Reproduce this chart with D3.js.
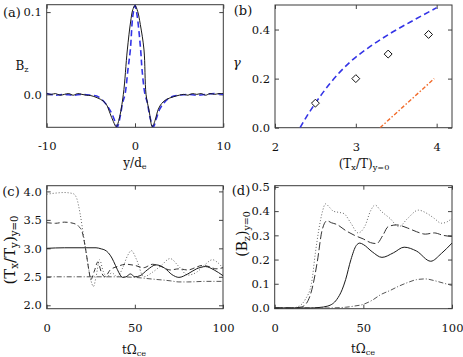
<!DOCTYPE html>
<html>
<head>
<meta charset="utf-8">
<script src="https://cdn.jsdelivr.net/npm/d3@7"></script>
<style>
  body { margin: 0; background: #fff; }
  svg { display: block; }
  text { font-family: "DejaVu Serif", serif; fill: #111; }
</style>
</head>
<body>
<div id="chart"></div>
<script>
// ---- panel (a): B_z profile vs y/d_e
const aSimX = [-10,-9.5,-9,-8.5,-8,-7.5,-7,-6.5,-6,-5.5,-5,-4.3,-3.6,-3.2,-2.83,-2.45,-2.12,-1.8,-1.32,-0.87,-0.5,-0.25,0,0.3,0.6,1.02,1.25,1.6,1.96,2.26,2.64,3.02,3.58,4.34,5,5.5,6,6.5,7,7.5,8,8.5,9,9.5,10];
const aSimY = [0.001,0.0,0.001,-0.001,0.0,0.001,-0.001,0.001,0.0,-0.001,-0.0015,-0.004,-0.008,-0.013,-0.023,-0.033,-0.0395,-0.03,0.0,0.054,0.088,0.103,0.108,0.101,0.085,0.054,0.0,-0.02,-0.0395,-0.032,-0.018,-0.011,-0.006,-0.003,-0.001,0.0,-0.001,0.001,0.0,0.001,-0.001,0.001,0.0,0.001,0.001];
const aFitX = [-10,-9,-8,-7,-6,-5,-4.34,-3.77,-3.2,-2.64,-2.3,-2.0,-1.7,-1.4,-1.13,-0.8,-0.53,-0.25,0,0.25,0.64,0.8,1.13,1.4,1.7,2.08,2.4,2.8,3.3,3.8,4.4,5,6,7,8,9,10];
const aFitY = [0.001,-0.001,0.0,-0.001,0.0,-0.001,-0.002,-0.006,-0.013,-0.023,-0.032,-0.0395,-0.028,-0.01,0.0,0.03,0.054,0.095,0.108,0.095,0.054,0.03,0.0,-0.01,-0.028,-0.0395,-0.03,-0.018,-0.01,-0.005,-0.002,-0.001,0.0,-0.001,0.0,0.001,0.0];

// ---- panel (b): growth rate vs anisotropy
const bTheoryX = [2.31,2.4,2.5,2.68,2.93,3.17,3.42,3.67,4.0];
const bTheoryY = [0,0.05,0.1,0.18,0.268,0.329,0.383,0.43,0.489];
const bSimX = [2.5,3.0,3.4,3.9];
const bSimY = [0.1,0.2,0.3,0.38];
const bLineX = [3.3,3.97];
const bLineY = [0,0.2];

// ---- panel (c): (Tx/Ty) at y=0 vs time
const cSolidT = [0,10,20,28,31,33,35,37,39,41,43,45,47.5,50,53,57,62,67,71,75,80,85,90,95,100];
const cSolidV = [3.0,3.01,3.01,3.01,2.99,2.97,2.92,2.83,2.7,2.57,2.49,2.5,2.55,2.5,2.52,2.62,2.71,2.65,2.54,2.49,2.55,2.64,2.68,2.62,2.52];
const cDashT = [0,5,10,15,18,20,22,24,25,27,29,31,33,36,40,45,50,55,60,65,70,75,80,85,88,92,96,100];
const cDashV = [3.45,3.44,3.46,3.44,3.39,3.3,3.0,2.6,2.45,2.6,2.76,2.58,2.5,2.62,2.68,2.72,2.7,2.66,2.72,2.68,2.62,2.64,2.62,2.67,2.7,2.68,2.64,2.66];
const cDotT = [0,5,10,15,17,19,21,23,25,26.5,28,30,32,34,37,40,43,46,48,51,55,60,65,70,75,80,85,90,94,97,100];
const cDotV = [3.95,3.97,3.98,3.96,3.88,3.6,3.2,2.8,2.45,2.33,2.5,2.8,2.6,2.5,2.57,2.5,2.65,2.88,2.96,2.8,2.5,2.58,2.7,2.82,2.68,2.53,2.58,2.72,2.8,2.75,2.65];
const cDDT = [0,20,40,50,60,70,75,80,90,100];
const cDDV = [2.5,2.5,2.5,2.49,2.46,2.43,2.41,2.41,2.42,2.42];

// ---- panel (d): (Bz) at y=0 vs time
const dSolidT = [0,20,25,30,35,38,40,43,46,48,50,55,60.5,67,73,80,88,94,100];
const dSolidV = [0,0,0.002,0.008,0.035,0.075,0.117,0.2,0.258,0.268,0.262,0.232,0.209,0.228,0.251,0.235,0.193,0.225,0.268];
const dDashT = [0,10,15,18,21,24,26.7,29.5,32,35,40,45,50,54,57.5,61,64,68.8,75,80,85,90,95,100];
const dDashV = [0,0,0.004,0.02,0.077,0.19,0.32,0.36,0.352,0.345,0.32,0.3,0.285,0.27,0.266,0.3,0.336,0.343,0.33,0.315,0.305,0.31,0.3,0.295];
const dDotT = [0,10,13,17.3,20.7,23,24.8,27,28.6,31,33,36,39,43,47,51,54,56.6,60,65,70,75,81,86,90,94,97,100];
const dDotV = [0,0,0.005,0.036,0.1,0.23,0.32,0.4,0.43,0.415,0.4,0.395,0.39,0.35,0.31,0.34,0.4,0.425,0.4,0.37,0.336,0.37,0.404,0.39,0.37,0.35,0.355,0.37];
const dDDT = [0,30,40,45,50,55,60,65,70,75,80,85,90,95,100];
const dDDV = [0,0,0.003,0.008,0.015,0.032,0.056,0.072,0.09,0.105,0.117,0.12,0.113,0.103,0.093];

const W = 463, H = 357;
const svg = d3.select("#chart").append("svg").attr("width", W).attr("height", H);

const styles = {
  solid:   { stroke: "#1a1a1a", width: 1, dash: null },
  dash:    { stroke: "#333", width: 1, dash: "5,3" },
  longdash:{ stroke: "#333", width: 1, dash: "8,3" },
  dot:     { stroke: "#666", width: 1, dash: "1,2" },
  dashdot: { stroke: "#555", width: 1, dash: "5,2,1,2" },
  blue:    { stroke: "#3434e6", width: 1.6, dash: "6,3.5" },
  orange:  { stroke: "#f26b2a", width: 1.4, dash: "4,2,1.5,2" }
};

function zip(xs, ys) { return xs.map((x, i) => [x, ys[i]]); }

const intFmt = d => String(d);   // plain hyphen for negatives, like the original
const f1 = d3.format(".1f");

function panel(box, xDom, yDom, xTicks, yTicks) {
  const g = svg.append("g");
  const x = d3.scaleLinear().domain(xDom).range([box.x0, box.x1]);
  const y = d3.scaleLinear().domain(yDom).range([box.y1, box.y0]);

  const clipId = "clip" + Math.round(box.x0) + Math.round(box.y0);
  svg.append("clipPath").attr("id", clipId).append("rect")
    .attr("x", box.x0).attr("y", box.y0)
    .attr("width", box.x1 - box.x0).attr("height", box.y1 - box.y0);

  const ax = (axis, tr) => {
    const a = g.append("g").attr("transform", tr).call(axis);
    a.select(".domain").remove();
    a.selectAll("line").attr("stroke", "#444");
    a.selectAll("text").style("font-family", "DejaVu Serif, serif").style("font-size", "11.5px").attr("fill", "#111");
    return a;
  };
  ax(d3.axisBottom(x).tickValues(xTicks).tickSize(-4).tickPadding(15).tickFormat(intFmt), `translate(0,${box.y1})`);
  ax(d3.axisTop(x).tickValues(xTicks).tickSize(-4).tickFormat(""), `translate(0,${box.y0})`);
  ax(d3.axisLeft(y).tickValues(yTicks).tickSize(-4).tickPadding(5).tickFormat(f1), `translate(${box.x0},0)`);
  ax(d3.axisRight(y).tickValues(yTicks).tickSize(-4).tickFormat(""), `translate(${box.x1},0)`);

  g.append("rect").attr("x", box.x0).attr("y", box.y0)
    .attr("width", box.x1 - box.x0).attr("height", box.y1 - box.y0)
    .attr("fill", "none").attr("stroke", "#3a3a3a").attr("stroke-width", 1);

  const plot = g.append("g").attr("clip-path", `url(#${clipId})`);
  function line(xs, ys, st, curve) {
    const gen = d3.line().x(d => x(d[0])).y(d => y(d[1])).curve(curve || d3.curveMonotoneX);
    plot.append("path").attr("d", gen(zip(xs, ys)))
      .attr("fill", "none").attr("stroke", st.stroke)
      .attr("stroke-width", st.width).attr("stroke-dasharray", st.dash);
  }
  return { g, x, y, line, plot };
}

function label(txt, xPos, yPos, size, rotate) {
  const t = svg.append("text").attr("font-size", size)
    .attr("text-anchor", "middle");
  if (rotate) t.attr("transform", `translate(${xPos},${yPos}) rotate(-90)`);
  else t.attr("x", xPos).attr("y", yPos);
  txt.forEach(p => {
    const s = t.append("tspan").text(p.t);
    if (p.sub) s.attr("font-size", size * 0.68).attr("baseline-shift", "-25%");
  });
  return t;
}

// (a)
const pa = panel({ x0: 46.7, x1: 223.3, y0: 4.7, y1: 127.3 }, [-10, 10], [-0.04, 0.109],
  [-10, 0, 10], [0, 0.1]);
pa.line(aFitX, aFitY, styles.blue, d3.curveCatmullRom);
pa.line(aSimX, aSimY, styles.solid, d3.curveCatmullRom);

// (b)
const pb = panel({ x0: 275, x1: 452, y0: 5, y1: 127.7 }, [2, 4.19], [0, 0.5],
  [2, 3, 4], [0, 0.2, 0.4]);
pb.line(bTheoryX, bTheoryY, styles.blue, d3.curveMonotoneX);
pb.line(bLineX, bLineY, styles.orange, d3.curveLinear);
pb.plot.selectAll("path.dia").data(zip(bSimX, bSimY)).enter().append("path")
  .attr("class", "dia")
  .attr("d", d3.symbol(d3.symbolDiamond2, 40))
  .attr("transform", d => `translate(${pb.x(d[0])},${pb.y(d[1])})`)
  .attr("fill", "#fff").attr("stroke", "#111").attr("stroke-width", 1);

// (c)
const pc = panel({ x0: 46.7, x1: 223, y0: 185.7, y1: 308.7 }, [0, 100], [1.94, 4.1],
  [0, 50, 100], [2.0, 2.5, 3.0, 3.5, 4.0]);
pc.line(cDDT, cDDV, styles.dashdot);
pc.line(cDotT, cDotV, styles.dot);
pc.line(cDashT, cDashV, styles.dash);
pc.line(cSolidT, cSolidV, styles.solid);

// (d)
const pd = panel({ x0: 274.7, x1: 452, y0: 185.7, y1: 308.7 }, [0, 100], [-0.003, 0.505],
  [0, 50, 100], [0, 0.1, 0.2, 0.3, 0.4, 0.5]);
pd.line(dDDT, dDDV, styles.dashdot);
pd.line(dDotT, dDotV, styles.dot);
pd.line(dDashT, dDashV, styles.longdash);
pd.line(dSolidT, dSolidV, styles.solid);

// axis titles
label([{ t: "y/d" }, { t: "e", sub: true }], 135, 167, 12);
label([{ t: "(T" }, { t: "x", sub: true }, { t: "/T)" }, { t: "y=0", sub: true }], 364, 168, 12);
label([{ t: "tΩ" }, { t: "ce", sub: true }], 134, 354, 12);
label([{ t: "tΩ" }, { t: "ce", sub: true }], 363, 353, 12);
label([{ t: "B" }, { t: "z", sub: true }], 22, 70, 12);
label([{ t: "γ" }], 237, 67, 13).style("font-style", "italic");
label([{ t: "(T" }, { t: "x", sub: true }, { t: "/T" }, { t: "y", sub: true }, { t: ")" }, { t: "y=0", sub: true }], 15, 250, 15, true);
label([{ t: "(B" }, { t: "z", sub: true }, { t: ")" }, { t: "y=0", sub: true }], 247, 234, 14, true);

// panel letters
label([{ t: "(a)" }], 12, 17, 13);
label([{ t: "(b)" }], 243, 15, 13);
label([{ t: "(c)" }], 11, 196, 13);
label([{ t: "(d)" }], 241, 195, 13);
</script>
</body>
</html>
